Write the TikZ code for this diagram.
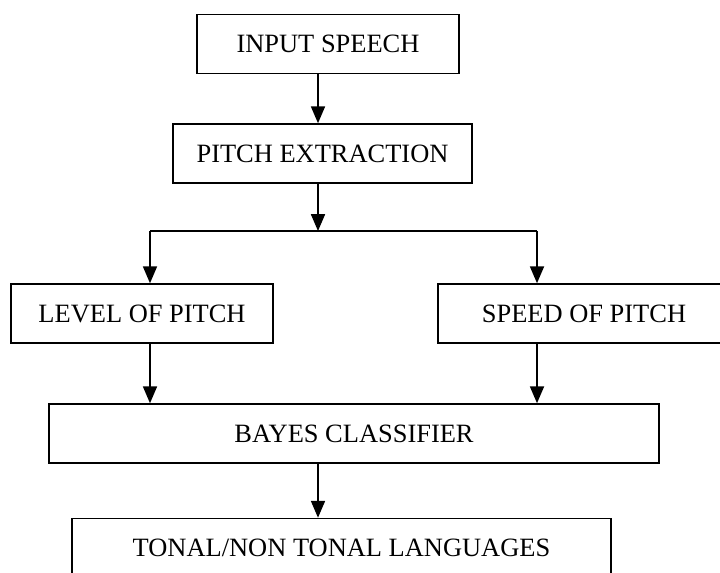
\documentclass[tikz,border=0pt]{standalone}
\usepackage{fontspec}
\setmainfont{Liberation Serif}
\usetikzlibrary{arrows.meta}

\tikzset{
  block/.style={draw, line width=1.1pt, rectangle, inner sep=0pt,
    minimum height=1.475cm, font=\fontsize{18.8}{20}\selectfont},
  flow/.style={-{Triangle[length=12pt,width=10pt]}, line width=1.1pt}
}

\begin{document}
\begin{tikzpicture}[x=0.025cm, y=-0.025cm]

      % Page frame
      \useasboundingbox (0,0) rectangle (720,572);
      \clip (0,0) rectangle (720,572);

      % Definitions
      \def\mx{318}      % x of the middle line of arrows
      \def\lx{150}      % x of the left branch
      \def\rx{537}      % x of the right branch
      \def\sy{231}      % y of the split line

      \coordinate (split) at (\mx,\sy);
      \coordinate (lsplit) at (\lx,\sy);
      \coordinate (rsplit) at (\rx,\sy);

      % Blocks
      \node [block, minimum width=6.55cm]  (input) at (328,44)    {INPUT SPEECH};
      \node [block, minimum width=7.475cm] (pitch) at (322.5,153.5) {PITCH EXTRACTION};
      \node [block, minimum width=6.55cm]  (level) at (142,313.5) {LEVEL OF PITCH};
      \node [block, minimum width=7.3cm]   (speed) at (584,313.5) {SPEED OF PITCH};
      \node [block, minimum width=15.25cm] (bayes) at (354,433.5) {BAYES CLASSIFIER};
      \node [block, minimum width=13.475cm] (tonal) at (341.5,548) {TONAL/NON TONAL LANGUAGES};

      % Arrows
      \draw [flow] (input.south -| split) -- (pitch.north -| split);
      \draw [flow] (pitch.south -| split) -- (split);
      \draw [line width=1.1pt] (lsplit) -- (rsplit);
      \draw [flow] (lsplit) -- (level.north -| lsplit);
      \draw [flow] (rsplit) -- (speed.north -| rsplit);
      \draw [flow] (level.south -| lsplit) -- (bayes.north -| lsplit);
      \draw [flow] (speed.south -| rsplit) -- (bayes.north -| rsplit);
      \draw [flow] (bayes.south -| split) -- (tonal.north -| split);

   \end{tikzpicture}
\end{document}
